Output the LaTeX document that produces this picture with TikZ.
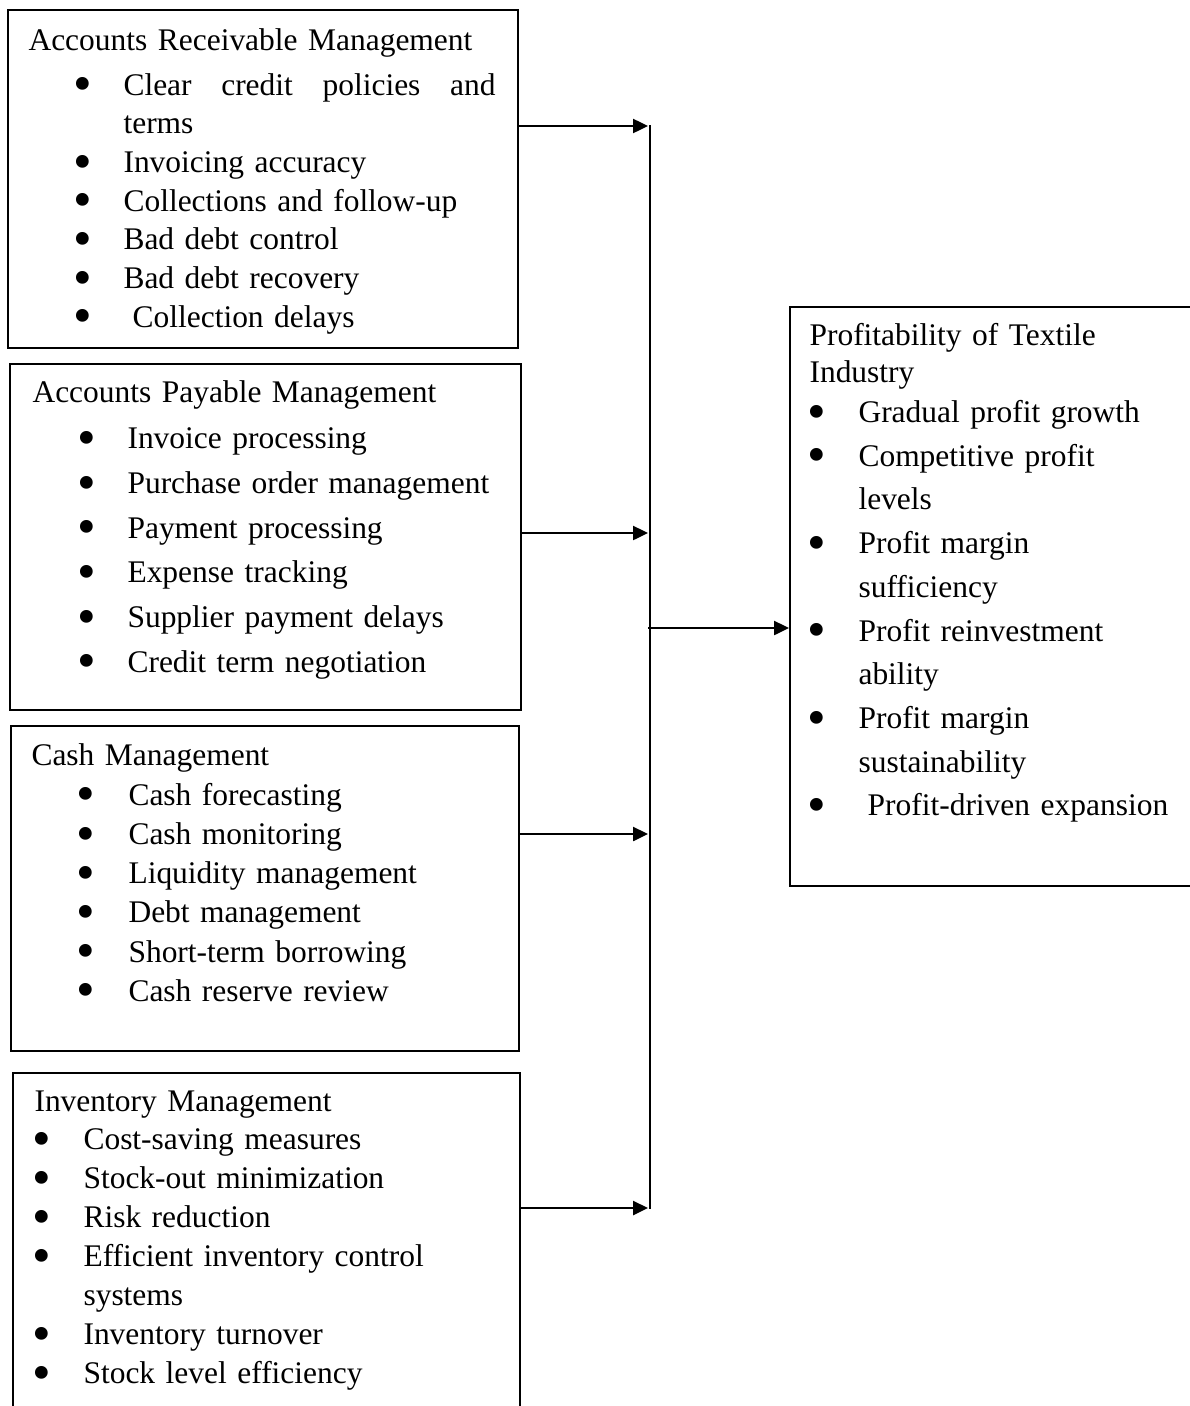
\documentclass[tikz,border=0pt]{standalone}
\usepackage{fontspec}
\setmainfont{Liberation Serif}
\usepackage{tikz}
\usetikzlibrary{arrows.meta, positioning}

\newdimen\px \px=0.375pt
\newlength{\bulx}
\newlength{\txtx}
% one bullet line, hanging indent for the wrapped part
\newcommand{\bitem}{\par\hangindent=\txtx\hangafter=1\noindent
    \makebox[\txtx][l]{\hspace*{\bulx}\makebox[0pt]{\raisebox{-2.5pt}{\fontsize{20}{20}\selectfont\textbullet}}}}
\newcommand{\nl}{\hfil\break}

\begin{document}
\begin{tikzpicture}[x=0.375pt, y=-0.375pt,
    box/.style={draw, line width=0.75pt, anchor=north west, inner sep=0pt},
    listtext/.style={anchor=base west, inner sep=0pt,
        font=\fontsize{11.8}{14.6}\selectfont},
    inlist/.style={execute at begin node={\setlength{\bulx}{54\px}\setlength{\txtx}{95\px}}},
    flatlist/.style={execute at begin node={\setlength{\bulx}{7\px}\setlength{\txtx}{49\px}}},
    bus/.style={line width=0.9pt},
    arrow/.style={-{Triangle[length=5.6pt,width=5.2pt]}, line width=1pt}
]
\useasboundingbox (0,0) rectangle (1190,1406);
\clip (0,0) rectangle (1190,1406);

% left column of boxes
\node[box, minimum width=510\px, minimum height=338\px] (ar) at (7,9) {};
\node[box, minimum width=511\px, minimum height=346\px] (ap) at (9,363) {};
\node[box, minimum width=508\px, minimum height=325\px] (cash) at (10,725) {};
\node[box, minimum width=507\px, minimum height=380\px] (inv) at (12,1072) {};
% result box
\node[box, minimum width=440\px, minimum height=579\px] (prof) at (789,306) {};

\node[listtext, inlist, text width=467\px,
      font=\fontsize{11.8}{14.5}\selectfont] (arList) at (28,50)
    {Accounts Receivable Management\par\vspace{2.4pt}
     \bitem Clear\hfill credit\hfill policies\hfill and\nl terms
     \bitem Invoicing accuracy
     \bitem Collections and follow-up
     \bitem Bad debt control
     \bitem Bad debt recovery
     \bitem\hspace{3.4pt}Collection delays};

\node[listtext, inlist, text width=473\px,
      font=\fontsize{11.8}{16.75}\selectfont] (apList) at (32,402)
    {Accounts Payable Management\par\vspace{0.8pt}
     \bitem Invoice processing
     \bitem Purchase order management
     \bitem Payment processing
     \bitem Expense tracking
     \bitem Supplier payment delays
     \bitem Credit term negotiation};

\node[listtext, inlist, text width=470\px,
      font=\fontsize{11.8}{14.7}\selectfont,
      execute at begin node={\setlength{\txtx}{97\px}}] (cashList) at (31,765)
    {Cash Management\par\vspace{0.4pt}
     \bitem Cash forecasting
     \bitem Cash monitoring
     \bitem Liquidity management
     \bitem Debt management
     \bitem Short-term borrowing
     \bitem Cash reserve review};

\node[listtext, flatlist, text width=470\px] (invList) at (34,1111)
    {Inventory Management
     \bitem Cost-saving measures
     \bitem Stock-out minimization
     \bitem Risk reduction
     \bitem Efficient inventory control\nl systems
     \bitem Inventory turnover
     \bitem Stock level efficiency};

\node[listtext, flatlist, text width=375\px,
      font=\fontsize{11.8}{16.4}\selectfont] (profList) at (809,345)
    {{\baselineskip=13.9pt Profitability of Textile\nl Industry\par}\vspace{-1.3pt}
     \bitem Gradual profit growth
     \bitem Competitive profit\nl levels
     \bitem Profit margin\nl sufficiency
     \bitem Profit reinvestment\nl ability
     \bitem Profit margin\nl sustainability
     \bitem\hspace{3.4pt}Profit-driven expansion};

% collecting line and joints
\coordinate (busTop) at (650,125);
\coordinate (busBot) at (650,1209);
\coordinate (j1) at (648,126);
\coordinate (j2) at (648,533);
\coordinate (j3) at (648,834);
\coordinate (j4) at (648,1208);
\coordinate (out) at (648,628);

\draw[bus] (busTop) -- (busBot);
\draw[arrow] (ar.east |- j1) -- (j1);
\draw[arrow] (ap.east |- j2) -- (j2);
\draw[arrow] (cash.east |- j3) -- (j3);
\draw[arrow] (inv.east |- j4) -- (j4);
\draw[arrow] (out) -- (prof.west |- out);
\end{tikzpicture}
\end{document}
